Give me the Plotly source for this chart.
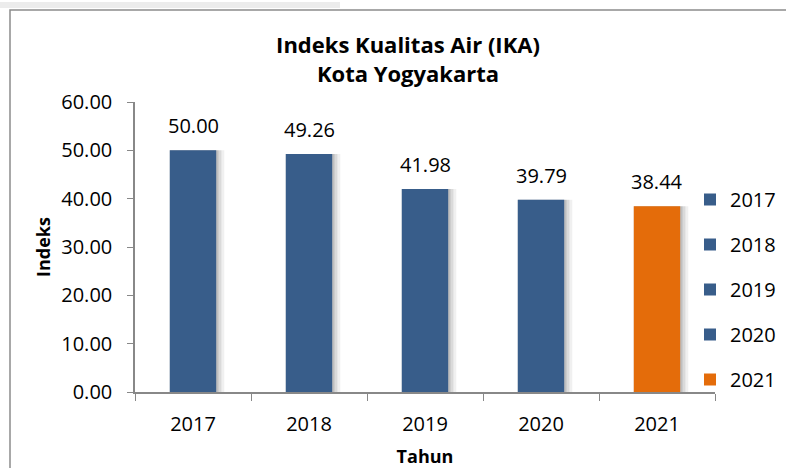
import plotly.graph_objects as go

years = ["2017", "2018", "2019", "2020", "2021"]
values = [50.00, 49.26, 41.98, 39.79, 38.44]
colors = ["#385D8A", "#385D8A", "#385D8A", "#385D8A", "#E46C0A"]
y_ticks = [0, 10, 20, 30, 40, 50, 60]
y_tick_labels = ["0.00", "10.00", "20.00", "30.00", "40.00", "50.00", "60.00"]

FONT = "Open Sans"
fig = go.Figure()

# soft shadow behind bars
for w, off, a in [(0.47, -0.20, 0.06), (0.445, -0.20, 0.09), (0.42, -0.20, 0.12)]:
    fig.add_trace(go.Bar(
        x=years, y=values, width=w, offset=off,
        marker=dict(color=f"rgba(0,0,0,{a})", line=dict(width=0)),
        showlegend=False, hoverinfo="skip",
    ))

for i, (yr, v, c) in enumerate(zip(years, values, colors)):
    fig.add_trace(go.Bar(
        x=[yr], y=[v], name=yr, width=0.4,
        marker=dict(color=c, line=dict(width=0)),
        legendgroup=yr,
    ))
    fig.add_annotation(
        x=i, y=v, text=f"{v:.2f}", showarrow=False,
        yanchor="bottom", yshift=9,
        font=dict(family=FONT, size=20, color="#000000"),
    )

fig.update_layout(
    width=786, height=468,
    margin=dict(l=135, r=71, t=102, b=76, autoexpand=False),
    paper_bgcolor="white", plot_bgcolor="white",
    barmode="overlay",
    title=dict(
        text="<b>Indeks Kualitas Air (IKA)<br>Kota Yogyakarta</b>",
        x=408 / 786, xanchor="center", xref="container",
        y=1 - 53 / 468, yanchor="top", yref="container",
        font=dict(family=FONT, size=22, color="#000000"),
    ),
    font=dict(family=FONT, size=20, color="#000000"),
    legend=dict(
        xref="container", yref="container",
        x=690 / 786, xanchor="left", y=1 - 180 / 468, yanchor="top",
        font=dict(family=FONT, size=20),
        tracegroupgap=16, itemwidth=30,
        bgcolor="rgba(0,0,0,0)",
    ),
    xaxis=dict(
        type="category", automargin=False,
        categoryorder="array", categoryarray=years,
        range=[-0.5, len(years) - 0.5],
        showline=True, linecolor="#888888", linewidth=1.5,
        ticks="outside", tickson="boundaries", ticklen=7, tickcolor="#888888",
        ticklabelstandoff=13,
        tickfont=dict(family=FONT, size=20),
        title=dict(text="<b>Tahun</b>", font=dict(family=FONT, size=18), standoff=17),
        showgrid=False,
    ),
    yaxis=dict(
        range=[0, 60], automargin=False,
        tickvals=y_ticks, ticktext=y_tick_labels,
        showline=True, linecolor="#888888", linewidth=1.5,
        ticks="outside", ticklen=6, tickcolor="#888888",
        ticklabelstandoff=11,
        tickfont=dict(family=FONT, size=20),
        title=dict(text="<b>Indeks</b>", font=dict(family=FONT, size=18), standoff=6),
        showgrid=False, zeroline=False,
    ),
    shapes=[
        dict(type="rect", xref="paper", yref="paper",
             x0=(10 - 135) / 580, x1=(800 - 135) / 580,
             y0=(392 - 480) / 290, y1=(392 - 10) / 290,
             line=dict(color="#8c8c8c", width=1.5), fillcolor="rgba(0,0,0,0)", layer="below"),
        dict(type="rect", xref="paper", yref="paper",
             x0=(0 - 135) / 580, x1=(340 - 135) / 580,
             y0=(392 - 8) / 290, y1=(392 - 2) / 290,
             line=dict(width=0), fillcolor="#ececec", layer="below"),
    ],
)

fig.write_html("out.html", config={"displayModeBar": False},
               post_script="document.body.style.margin='0';")
